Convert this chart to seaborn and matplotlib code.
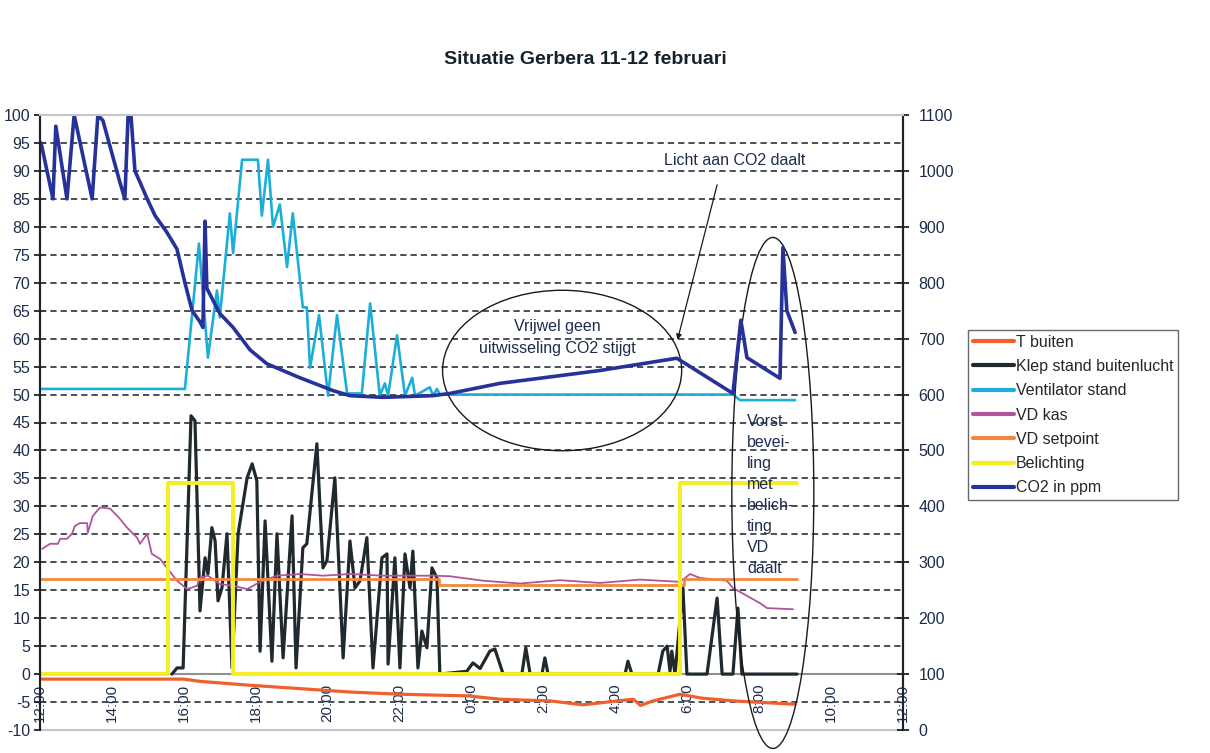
import seaborn as sns
import matplotlib.pyplot as plt
from matplotlib.lines import Line2D
from matplotlib.patches import Ellipse

sns.set_theme(style="white")
plt.rcParams['font.family'] = ['Liberation Sans', 'DejaVu Sans']

# tijd in uren vanaf 12:00 (11 feb) tot 12:00 (12 feb)
tick_hours = list(range(0, 25, 2))
tick_labels = ["12:00", "14:00", "16:00", "18:00", "20:00", "22:00", "0:00",
               "2:00", "4:00", "6:00", "8:00", "10:00", "12:00"]

t_buiten_h = [0, 4.0, 4.45, 5.84, 7.0, 8.6, 10.0, 11.9, 12.8, 14.2, 15.1, 16.05,
              16.5, 16.7, 17.05, 17.8, 18.4, 19.3, 21.0]
t_buiten = [-0.9, -0.9, -1.3, -2.0, -2.5, -3.2, -3.6, -3.9, -4.5, -4.8, -5.5, -4.8,
            -4.5, -5.6, -4.8, -3.6, -4.3, -4.8, -5.4]

klep_h = [3.67, 3.81, 3.98, 4.2, 4.31, 4.45, 4.59, 4.67, 4.78, 4.87, 4.95, 5.06, 5.2,
          5.34, 5.51, 5.76, 5.9, 6.03, 6.12, 6.26, 6.45, 6.59, 6.76, 7.01, 7.12, 7.31,
          7.42, 7.7, 7.87, 7.98, 8.2, 8.43, 8.62, 8.76, 8.9, 9.09, 9.26, 9.51, 9.65,
          9.68, 9.87, 10.01, 10.15, 10.29, 10.37, 10.51, 10.62, 10.76, 10.9, 11.04,
          11.12, 11.87, 12.04, 12.24, 12.51, 12.65, 12.88, 13.4, 13.51, 13.63, 13.96,
          14.04, 14.13, 16.27, 16.35, 16.46, 17.19, 17.32, 17.44, 17.52, 17.57, 17.66,
          17.88, 17.99, 18.55, 18.83, 18.97, 19.27, 19.41, 19.52, 21.05]
klep = [0, 1.1, 1.1, 46.2, 45.3, 11.3, 20.8, 17.9, 26.2, 23.8, 13.1, 15.4, 25.1,
        1.1, 25.1, 35.1, 37.6, 34.6, 4.1, 27.4, 2.3, 25.1, 2.9, 28.3, 1.1, 22.6,
        23.3, 41.2, 19, 20.3, 35.1, 2.9, 23.8, 15.4, 16.7, 24.4, 1.1, 20.8, 21.5,
        1.8, 20.8, 1.1, 21.5, 15.4, 22, 1.1, 7.7, 4.7, 19, 17.2,
        0, 0.5, 2, 1, 4.1, 4.5, 0, 0, 4.7, 0, 0,
        2.9, 0, 0, 2.3, 0, 0, 4.1, 5, 0.5, 4.1, 0,
        15.4, 0, 0, 13.6, 0, 0, 11.8, 0, 0]

vent_h = [0, 4.03, 4.42, 4.67, 4.92, 5.0, 5.28, 5.37, 5.62, 6.06, 6.17, 6.34, 6.48,
          6.67, 6.87, 7.03, 7.31, 7.42, 7.51, 7.76, 8.01, 8.26, 8.54, 8.95, 9.18,
          9.45, 9.59, 9.68, 9.93, 10.15, 10.35, 10.43, 10.84, 10.93, 11.04, 11.12,
          19.27, 19.47, 21.0]
vent = [51, 51, 77, 56.6, 68.6, 63.8, 82.4, 75.3, 92, 92, 82, 92, 80,
        84, 72.8, 82.4, 65.6, 65.6, 54.8, 64.2, 49.8, 64.2, 50.2, 50.2, 66.3,
        49.8, 52, 49.8, 60.6, 49.8, 53, 49.8, 51.3, 49.8, 51, 50,
        50, 49, 49]

vd_kas_h = [0.06, 0.28, 0.5, 0.56, 0.75, 0.89, 0.97, 1.11, 1.31, 1.33, 1.47, 1.67,
            1.95, 2.22, 2.42, 2.7, 2.78, 2.98, 3.11, 3.34, 3.53, 3.81, 4.09, 4.37,
            4.45, 4.67, 5.0, 5.37, 5.76, 6.12, 6.59, 7.23, 7.87, 8.62, 9.54, 10.93,
            11.4, 12.32, 13.35, 14.46, 15.57, 16.68, 17.8, 18.08, 18.35, 19.1, 19.27,
            19.66, 20.02, 20.22, 20.94]
vd_kas = [22.4, 23.3, 23.3, 24.2, 24.2, 25.1, 26.5, 27, 27, 25.3, 28.3, 29.8,
          29.6, 27.8, 26.2, 24.4, 23.3, 25.1, 21.5, 20.6, 19, 16.7, 15.2, 15.8,
          17.2, 17.6, 16.1, 15.8, 15.2, 16.5, 17.6, 17.9, 17.6, 17.9, 17.6, 17.6,
          17.5, 16.7, 16.2, 16.8, 16.3, 16.9, 16.5, 17.9, 17.2, 16.7, 15.4,
          14, 12.7, 11.8, 11.6]

vd_sp_h = [0, 11.1, 11.1, 17.9, 17.9, 21.05]
vd_sp = [17, 17, 16, 16, 17, 17]

bel_h = [0, 3.56, 3.56, 5.37, 5.37, 17.8, 17.8, 21.05]
bel = [0, 0, 34.2, 34.2, 0, 0, 34.2, 34.2]

co2_h = [0.03, 0.36, 0.44, 0.75, 0.95, 1.45, 1.61, 1.75, 2.22, 2.36, 2.45, 2.53,
         2.64, 2.78, 2.98, 3.2, 3.53, 3.81, 4.03, 4.23, 4.45, 4.53, 4.59, 4.64,
         5.0, 5.37, 5.84, 6.31, 7.23, 8.15, 8.62, 9.54, 10.93, 11.4, 12.79, 15.57,
         17.71, 19.27, 19.49, 19.66, 20.58, 20.66, 20.77, 21.0]
co2 = [1050, 950, 1080, 950, 1100, 950, 1100, 1090, 980, 950, 1100, 1100,
       1000, 980, 950, 920, 890, 860, 800, 750, 730, 720, 910, 790,
       745, 720, 680, 655, 630, 607, 598, 595, 598, 602, 620, 643,
       665, 602, 733, 666, 629, 863, 750, 711]

series = [
    ("T buiten", t_buiten_h, t_buiten, "#F0602E", 2.3),
    ("Klep stand buitenlucht", klep_h, klep, "#1F292E", 2.3),
    ("Ventilator stand", vent_h, vent, "#1BAFD8", 1.9),
    ("VD kas", vd_kas_h, vd_kas, "#B0559B", 1.3),
    ("VD setpoint", vd_sp_h, vd_sp, "#F2883E", 2.0),
    ("Belichting", bel_h, bel, "#F5EE22", 2.8),
]
txt_col = "#1c2c4c"

fig = plt.figure(figsize=(12.1, 7.53), dpi=100)
ax = fig.add_axes([40 / 1210, 23 / 753, 863 / 1210, 615 / 753])
ax2 = ax.twinx()

# x-as ligt op 0 (eerst zetten, anders worden tick-instellingen gereset)
ax.spines["bottom"].set_position(("data", 0))

# stippellijnen
for v in range(-5, 100, 5):
    if v != 0:
        ax.axhline(v, color="#3c4248", lw=1.3, ls=(0, (3.5, 2.2)), zorder=1)
ax.axhline(-10, color="#c4c8cc", lw=1.5, clip_on=False, zorder=1)

handles = []
for name, hx, hy, col, lw in series:
    sns.lineplot(x=hx, y=hy, ax=ax, color=col, linewidth=lw, estimator=None,
                 sort=False, legend=False, zorder=3)
    handles.append(Line2D([], [], color=col, lw=3))

sns.lineplot(x=co2_h, y=co2, ax=ax2, color="#26319A", linewidth=2.6, estimator=None,
             sort=False, legend=False)
handles.append(Line2D([], [], color="#26319A", lw=3))
labels = [s[0] for s in series] + ["CO2 in ppm"]

ax.set_xlim(0, 24)
ax.set_ylim(-10, 100)
ax2.set_ylim(0, 1100)
ax.set_xticks(tick_hours)
ax.set_xticklabels(tick_labels, rotation=90, fontsize=11, color=txt_col)
ax.set_yticks(range(-10, 101, 5))
ax.set_yticklabels([str(v) for v in range(-10, 101, 5)], fontsize=11.5, color=txt_col)
ax2.set_yticks(range(0, 1101, 100))
ax2.set_yticklabels([str(v) for v in range(0, 1101, 100)], fontsize=11.5, color=txt_col)
ax.set_xlabel("")
ax.set_ylabel("")
ax2.set_ylabel("")

ax.spines["bottom"].set_color("#8c9298")
ax.spines["bottom"].set_linewidth(1.5)
for a in (ax, ax2):
    a.spines["top"].set_color("#c4c8cc")
    a.spines["top"].set_linewidth(1.5)
    a.spines["left"].set_color("#1c2428")
    a.spines["right"].set_color("#1c2428")
    a.spines["left"].set_linewidth(1.5)
    a.spines["right"].set_linewidth(1.5)
ax2.spines["bottom"].set_visible(False)
ax.tick_params(axis="y", direction="inout", length=8, width=1.3, color="#1c2428", pad=3)
ax.tick_params(axis="x", direction="out", length=4, width=1, color="#8c9298", pad=3)
ax2.tick_params(axis="y", direction="inout", length=8, width=1.3, color="#1c2428", pad=7)

fig.text(585 / 1210, 1 - 60 / 753, "Situatie Gerbera 11-12 februari", ha="center",
         va="center", fontsize=14, fontweight="bold", color="#16222a")

ax.add_patch(Ellipse((14.52, 54.3), 6.65, 28.7, fill=False, ec="#1a1a1a", lw=1.0, zorder=5))
ax.text(14.38, 60.2, "Vrijwel geen\nuitwisseling CO2 stijgt", ha="center", va="center",
        fontsize=11.5, color=txt_col, linespacing=1.65, zorder=6)
ax.annotate("", xy=(17.71, 59.3), xytext=(18.85, 88.0),
            arrowprops=dict(arrowstyle="-|>", color="#1a1a1a", lw=0.9,
                            mutation_scale=8), zorder=6)
ax.text(19.33, 91.9, "Licht aan CO2 daalt", ha="center", va="center", fontsize=11.5,
        color=txt_col, zorder=6)
ax.add_patch(Ellipse((20.38, 32.4), 2.28, 91.4, fill=False, ec="#1a1a1a", lw=1.0,
                     clip_on=False, zorder=5))
ax.text(19.66, 46.6, "Vorst\nbevei-\nling\nmet\nbelich-\nting\nVD\ndaalt", ha="left",
        va="top", fontsize=11.5, color=txt_col, linespacing=1.5, zorder=6)

fig.legend(handles, labels, loc="upper left", bbox_to_anchor=(968 / 1210, 1 - 330 / 753),
           fontsize=11.5, frameon=True, fancybox=False, edgecolor="#404448",
           handlelength=2.6, handletextpad=0.1, labelspacing=0.58, borderpad=0.3,
           borderaxespad=0)

fig.savefig("out.png", dpi=100)
